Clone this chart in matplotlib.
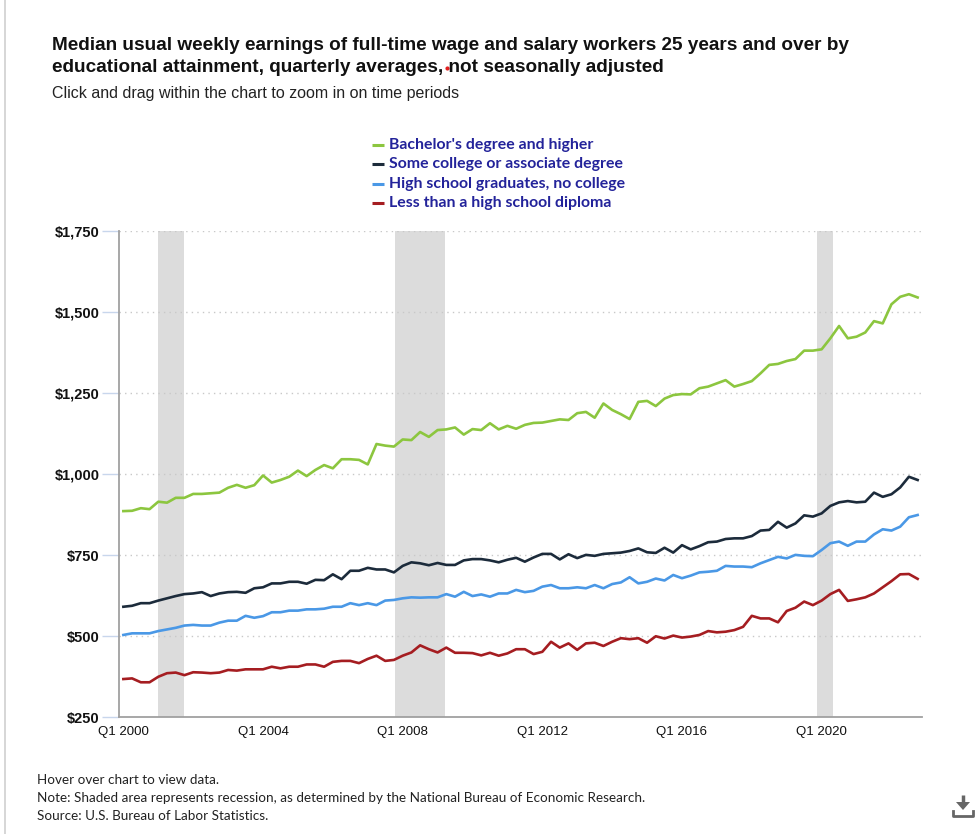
import matplotlib
matplotlib.use("Agg")
import matplotlib.pyplot as plt
from matplotlib.patches import Polygon
import numpy as np

# ---------------- data ----------------
years = list(range(2000, 2023))
quarters = [f"Q{q} {y}" for y in years for q in (1, 2, 3, 4)]  # Q1 2000 .. Q4 2022

bachelors = [886, 887, 895, 892, 915, 912, 927, 927, 939, 939, 941, 943, 958, 967, 958, 966,
             996, 974, 982, 992, 1011, 994, 1013, 1028, 1018, 1046, 1046, 1044, 1030, 1093, 1088, 1085,
             1107, 1105, 1130, 1115, 1136, 1138, 1144, 1122, 1139, 1136, 1157, 1138, 1149, 1140, 1152, 1158,
             1159, 1164, 1169, 1167, 1188, 1192, 1174, 1218, 1198, 1185, 1170, 1223, 1226, 1210, 1233, 1244,
             1247, 1246, 1265, 1270, 1280, 1290, 1270, 1278, 1287, 1311, 1337, 1340, 1349, 1355, 1381, 1381,
             1385, 1419, 1457, 1419, 1424, 1437, 1472, 1465, 1524, 1547, 1555, 1545]

some_college = [591, 594, 602, 602, 610, 617, 624, 630, 632, 636, 624, 632, 636, 637, 634, 648,
                651, 663, 663, 668, 668, 662, 674, 673, 691, 676, 702, 702, 711, 706, 706, 697,
                717, 728, 725, 719, 726, 720, 720, 734, 738, 738, 734, 728, 736, 742, 730, 743,
                754, 754, 737, 753, 741, 751, 748, 754, 756, 758, 763, 771, 759, 757, 773, 758,
                781, 768, 778, 790, 792, 800, 802, 802, 809, 826, 828, 853, 835, 848, 873, 869,
                879, 902, 913, 917, 913, 915, 943, 930, 938, 959, 992, 982]

high_school = [504, 509, 509, 509, 516, 521, 526, 533, 535, 533, 533, 542, 548, 548, 563, 557,
               562, 574, 574, 579, 579, 583, 583, 585, 591, 591, 602, 596, 602, 596, 610, 612,
               617, 620, 619, 620, 620, 630, 622, 637, 624, 629, 622, 632, 632, 643, 636, 640,
               653, 658, 648, 648, 651, 648, 658, 648, 661, 666, 682, 663, 668, 678, 672, 689,
               679, 687, 697, 699, 702, 717, 715, 715, 713, 725, 735, 745, 740, 751, 748, 747,
               766, 787, 792, 779, 792, 792, 814, 830, 826, 838, 867, 874]

less_than_hs = [368, 370, 358, 358, 375, 386, 388, 380, 389, 388, 386, 388, 396, 394, 398, 398,
                398, 406, 401, 406, 406, 413, 413, 406, 421, 424, 424, 417, 430, 440, 424, 427,
                440, 450, 472, 460, 450, 465, 449, 449, 448, 441, 449, 440, 447, 460, 460, 445,
                452, 483, 465, 478, 458, 478, 480, 470, 483, 494, 491, 494, 480, 500, 493, 502,
                496, 499, 504, 516, 512, 514, 519, 529, 563, 555, 555, 543, 578, 588, 607, 596,
                610, 630, 643, 609, 614, 620, 632, 651, 670, 691, 692, 677]

series_names = ["Bachelor's degree and higher", "Some college or associate degree",
                "High school graduates, no college", "Less than a high school diploma"]
series_colors = ["#8cc63f", "#1c2b3b", "#4a98e6", "#a51d21"]

recessions = [("Q1 2001", "Q4 2001"), ("Q4 2007", "Q2 2009"), ("Q4 2019", "Q2 2020")]
recession_pad = [(0.0, 0.0), (0.1, -0.1), (0.45, 0.3)]

yticks = [250, 500, 750, 1000, 1250, 1500, 1750]
ytick_labels = ["$250", "$500", "$750", "$1,000", "$1,250", "$1,500", "$1,750"]
xtick_labels = ["Q1 2000", "Q1 2004", "Q1 2008", "Q1 2012", "Q1 2016", "Q1 2020"]

# ---------------- figure ----------------
W, H = 977, 834
fig = plt.figure(figsize=(W / 100, H / 100), dpi=100)
fig.patch.set_facecolor("white")

L, R, T, B = 119, 922, 231, 717.3
ax = fig.add_axes([L / W, 1 - B / H, (R - L) / W, (B - T) / H])

x = np.arange(len(quarters))
for (a, b), (pa, pb) in zip(recessions, recession_pad):
    ia, ib = quarters.index(a) + pa, quarters.index(b) + pb
    ax.axvspan(ia, ib, color="#dcdcdc", lw=0, zorder=0)

for vals, c in zip([bachelors, some_college, high_school, less_than_hs], series_colors):
    ax.plot(x, vals, color=c, lw=1.9, zorder=3, solid_joinstyle="round")

ax.set_xlim(-0.5, len(quarters) - 0.5)
ax.set_ylim(250, 1750)
ax.set_yticks(yticks)
ax.set_yticklabels(ytick_labels, fontsize=10.5, fontweight="bold", family="Liberation Sans", color="#111111")
ax.set_xticks([quarters.index(t) for t in xtick_labels])
ax.set_xticklabels(xtick_labels, fontsize=9.5, family="Liberation Sans", color="#111111")
ax.tick_params(axis="y", length=12, width=1, color="#c8d6ec", pad=2)
ax.tick_params(axis="x", length=0, pad=6)
for yv in yticks[1:]:
    ax.axhline(yv, color="#c8c8c8", lw=1, ls=(0, (1, 3)), zorder=1)
for s in ["top", "right"]:
    ax.spines[s].set_visible(False)
ax.spines["left"].set_color("#a0a0a0")
ax.spines["left"].set_linewidth(1.3)
ax.spines["bottom"].set_color("#a0a0a0")
ax.spines["bottom"].set_linewidth(1.3)

# ---------------- overlay (pixel coordinates) ----------------
ov = fig.add_axes([0, 0, 1, 1], zorder=10)
ov.set_xlim(0, W)
ov.set_ylim(H, 0)
ov.axis("off")
ov.patch.set_alpha(0)

ov.plot([4.5, 4.5], [0, H], color="#d0d0d0", lw=1.2)

ov.text(52, 45, "Median usual weekly earnings of full-time wage and salary workers 25 years and over by",
        fontsize=13.7, fontweight="bold", family="Liberation Sans", va="center", ha="left", color="#111111")
ov.text(52, 67, "educational attainment, quarterly averages, not seasonally adjusted",
        fontsize=13.7, fontweight="bold", family="Liberation Sans", va="center", ha="left", color="#111111")
ov.plot([447], [68], marker="o", ms=3, color="#e02020", mew=0)
ov.text(52, 93, "Click and drag within the chart to zoom in on time periods",
        fontsize=11.5, family="Liberation Sans", va="center", ha="left", color="#222222")

leg_y = [145, 164, 184, 203]
for yy, name, c in zip(leg_y, series_names, series_colors):
    ov.plot([372, 384], [yy, yy], color=c, lw=2.2, solid_capstyle="butt")
    ov.text(389, yy, name, fontsize=11.4, fontweight="bold", family="Lato", va="center", ha="left",
            color="#23239a")

foot = ["Hover over chart to view data.",
        "Note: Shaded area represents recession, as determined by the National Bureau of Economic Research.",
        "Source: U.S. Bureau of Labor Statistics."]
for yy, t in zip([780, 798, 816], foot):
    ov.text(37, yy, t, fontsize=9.7, family="Lato", va="center", ha="left", color="#222222")

# download icon
ov.plot([963, 963], [795, 803], color="#666666", lw=2.5, solid_capstyle="butt")
ov.add_patch(Polygon([[956, 802], [970, 802], [963, 810]], closed=True, color="#666666", lw=0))
ov.plot([953, 953, 973, 973], [811, 816, 816, 811], color="#666666", lw=2)

fig.savefig("out.png", dpi=100, facecolor="white")
